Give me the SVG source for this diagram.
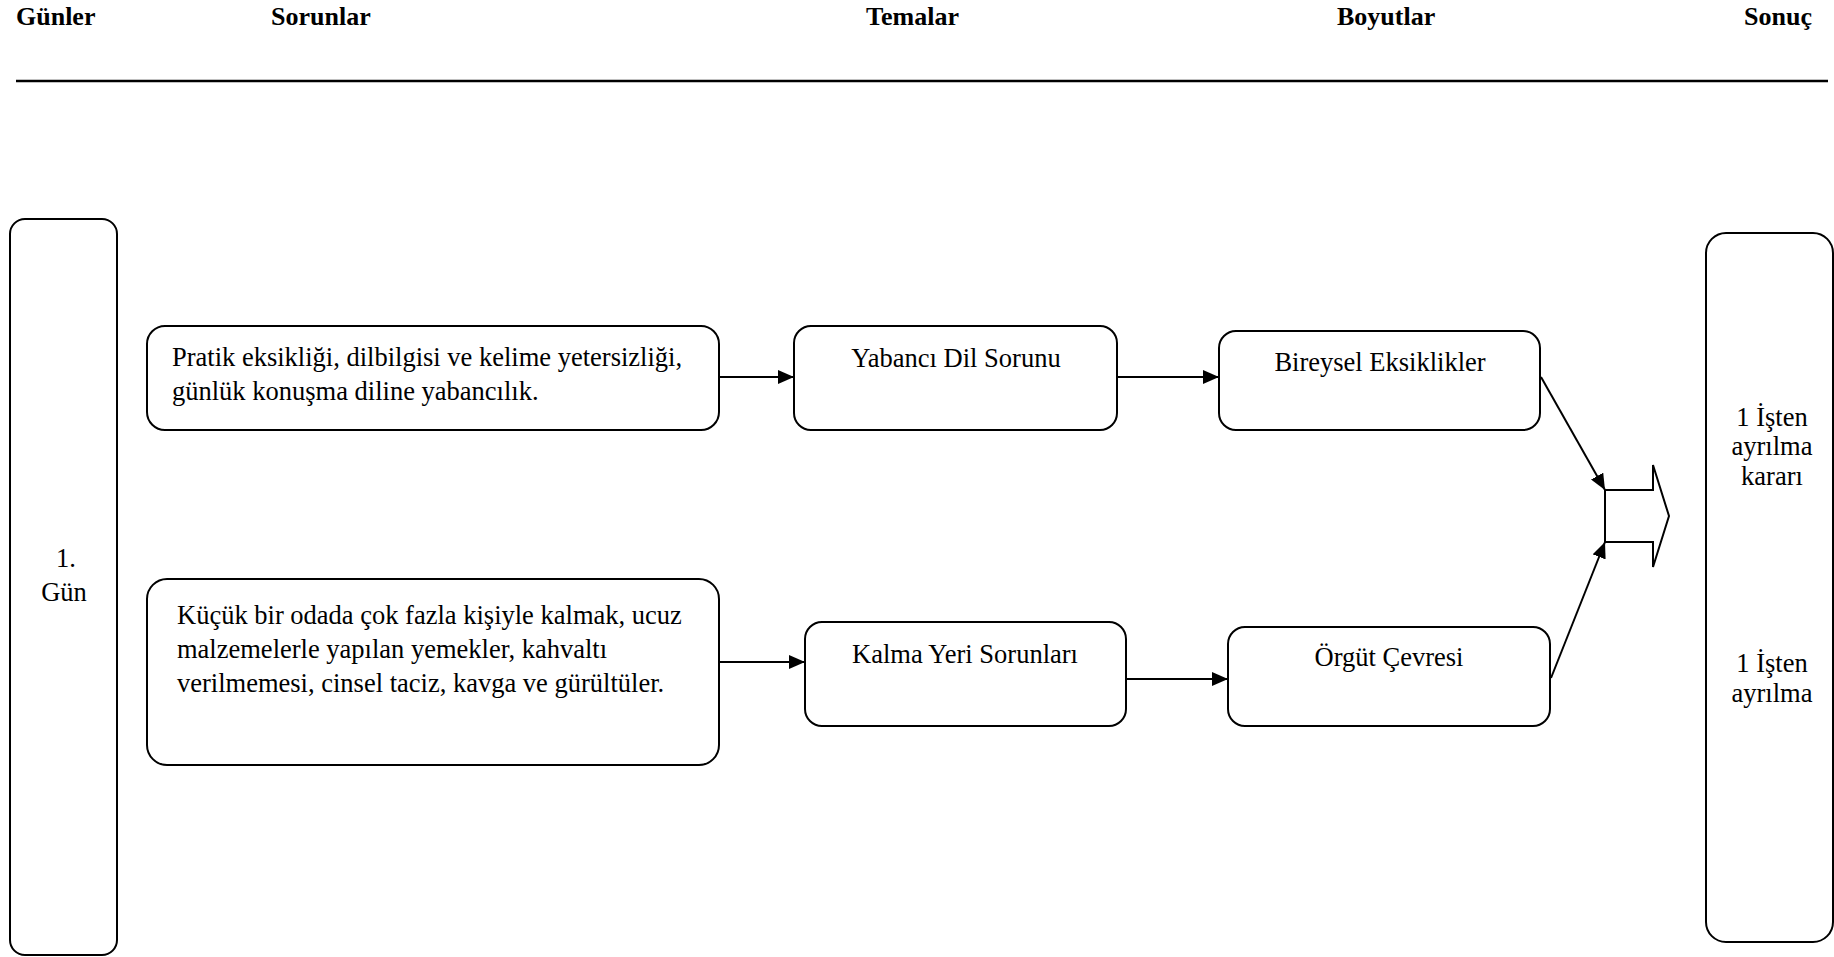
<svg xmlns="http://www.w3.org/2000/svg" width="1834" height="957" viewBox="0 0 1834 957">
  <defs>
    <marker id="arrow" markerUnits="userSpaceOnUse" markerWidth="16" markerHeight="14" refX="16" refY="7" orient="auto">
      <path d="M0,0 L16,7 L0,14 z" fill="#000"/>
    </marker>
    <style>
      text { font-family: "Liberation Serif", "Times New Roman", serif; fill: #000; }
      .head { font-size: 26px; font-weight: bold; }
      .body { font-size: 26.5px; }
      .mid { text-anchor: middle; }
      .box { fill: #fff; stroke: #000; stroke-width: 2; }
      .conn { fill: none; stroke: #000; stroke-width: 2; }
    </style>
  </defs>
  <rect width="1834" height="957" fill="#fff"/>

  <!-- column headings -->
  <g id="headings">
    <text class="head" x="16" y="25">Günler</text>
    <text class="head" x="271" y="25">Sorunlar</text>
    <text class="head" x="866" y="25">Temalar</text>
    <text class="head" x="1337" y="25">Boyutlar</text>
    <text class="head" x="1744" y="25">Sonuç</text>
    <line x1="16" y1="81" x2="1828" y2="81" stroke="#000" stroke-width="2.5"/>
  </g>

  <!-- day column -->
  <g id="day1">
    <rect class="box" x="10" y="219" width="107" height="736" rx="15"/>
    <text class="body mid" x="66" y="567">1.</text>
    <text class="body mid" x="64" y="601">Gün</text>
  </g>

  <!-- problems -->
  <g id="problem-language">
    <rect class="box" x="147" y="326" width="572" height="104" rx="18"/>
    <text class="body" x="172" y="366">Pratik eksikliği, dilbilgisi ve kelime yetersizliği,</text>
    <text class="body" x="172" y="400">günlük konuşma diline yabancılık.</text>
  </g>
  <g id="problem-housing">
    <rect class="box" x="147" y="579" width="572" height="186" rx="20"/>
    <text class="body" x="177" y="624">Küçük bir odada çok fazla kişiyle kalmak, ucuz</text>
    <text class="body" x="177" y="658">malzemelerle yapılan yemekler, kahvaltı</text>
    <text class="body" x="177" y="692">verilmemesi, cinsel taciz, kavga ve gürültüler.</text>
  </g>

  <!-- themes -->
  <g id="theme-language">
    <rect class="box" x="794" y="326" width="323" height="104" rx="17"/>
    <text class="body mid" x="956" y="367">Yabancı Dil Sorunu</text>
  </g>
  <g id="theme-housing">
    <rect class="box" x="805" y="622" width="321" height="104" rx="17"/>
    <text class="body mid" x="965" y="663">Kalma Yeri Sorunları</text>
  </g>

  <!-- dimensions -->
  <g id="dim-individual">
    <rect class="box" x="1219" y="331" width="321" height="99" rx="17"/>
    <text class="body mid" x="1380" y="371">Bireysel Eksiklikler</text>
  </g>
  <g id="dim-organisation">
    <rect class="box" x="1228" y="627" width="322" height="99" rx="17"/>
    <text class="body mid" x="1389" y="666">Örgüt Çevresi</text>
  </g>

  <!-- merging block arrow -->
  <g id="merge-arrow">
    <path class="conn" d="M1605,490 L1653,490 L1653,465 L1669,516 L1653,567 L1653,542 L1605,542 Z"/>
  </g>

  <!-- result -->
  <g id="result">
    <rect class="box" x="1706" y="233" width="127" height="709" rx="20"/>
    <text class="body mid" x="1772" y="426">1 İşten</text>
    <text class="body mid" x="1772" y="455">ayrılma</text>
    <text class="body mid" x="1772" y="485">kararı</text>
    <text class="body mid" x="1772" y="672">1 İşten</text>
    <text class="body mid" x="1772" y="702">ayrılma</text>
  </g>

  <!-- connectors -->
  <g id="connectors">
    <line class="conn" x1="719" y1="377" x2="794" y2="377" marker-end="url(#arrow)"/>
    <line class="conn" x1="1117" y1="377" x2="1219" y2="377" marker-end="url(#arrow)"/>
    <line class="conn" x1="719" y1="662" x2="805" y2="662" marker-end="url(#arrow)"/>
    <line class="conn" x1="1126" y1="679" x2="1228" y2="679" marker-end="url(#arrow)"/>
    <line class="conn" x1="1541" y1="377" x2="1605" y2="490" marker-end="url(#arrow)"/>
    <line class="conn" x1="1551" y1="678" x2="1605" y2="542" marker-end="url(#arrow)"/>
  </g>
</svg>
